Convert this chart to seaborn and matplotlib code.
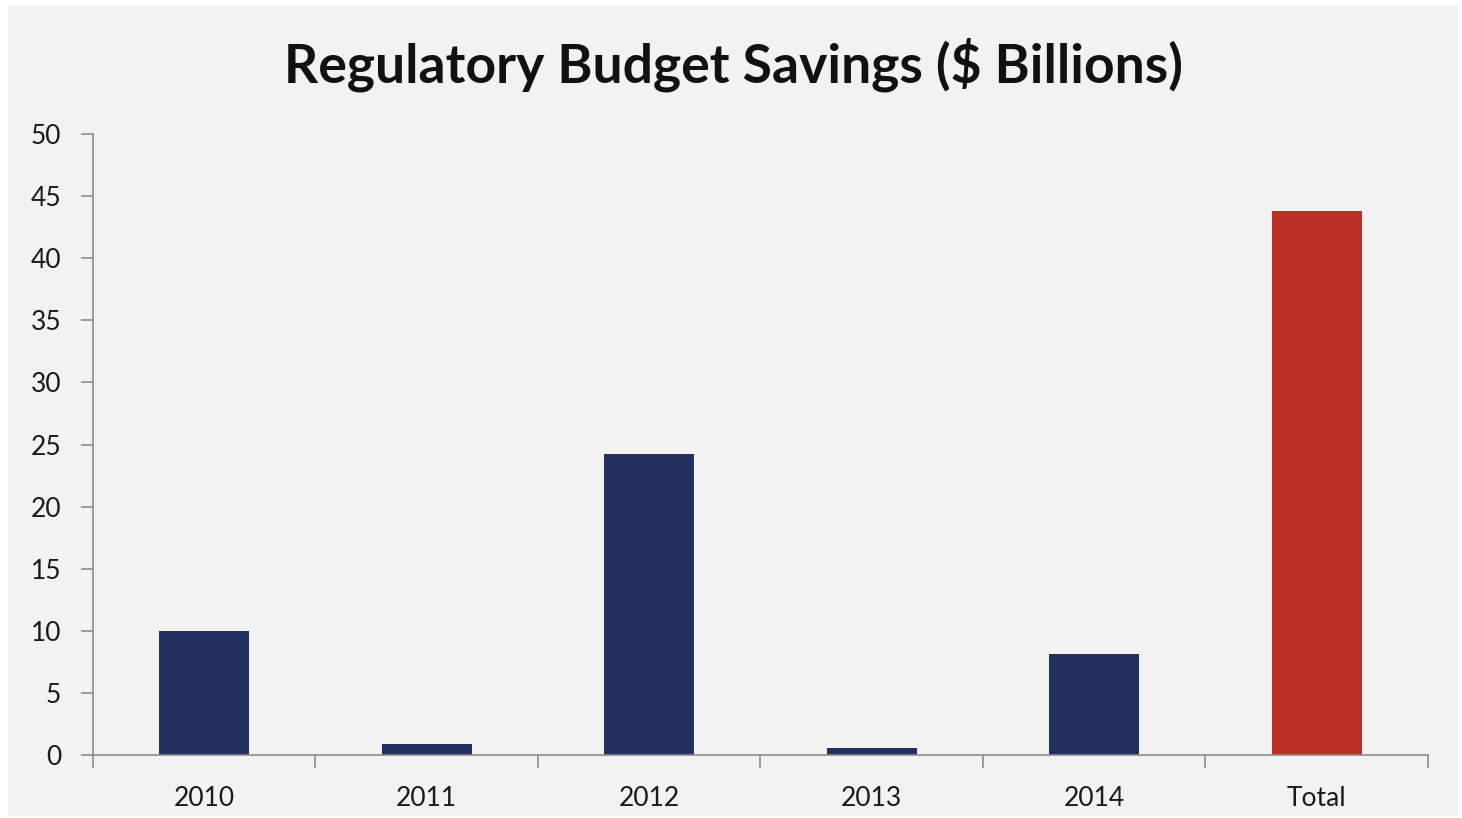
import matplotlib.pyplot as plt
import seaborn as sns
import pandas as pd
from matplotlib.patches import Rectangle

categories = ["2010", "2011", "2012", "2013", "2014", "Total"]
savings = [10.0, 0.9, 24.2, 0.6, 8.1, 43.8]
bar_colors = ["#22305f", "#22305f", "#22305f", "#22305f", "#22305f", "#bc2f26"]
y_ticks = [0, 5, 10, 15, 20, 25, 30, 35, 40, 45, 50]

df = pd.DataFrame({"year": categories, "savings": savings})

sns.set_style("white")
plt.rcParams["font.family"] = ["Lato", "DejaVu Sans"]

fig = plt.figure(figsize=(14.62, 8.18), dpi=100, facecolor="white")
# gray panel behind the chart
fig.patches.append(Rectangle((0.0055, 0.0024), 0.9918, 0.990, transform=fig.transFigure,
                             facecolor="#f2f2f2", edgecolor="none", zorder=-5))
ax = fig.add_axes([0.0636, 0.0770, 0.9131, 0.7592])
ax.set_facecolor("none")

sns.barplot(data=df, x="year", y="savings", hue="year", palette=bar_colors,
            legend=False, width=0.405, saturation=1, edgecolor="none", linewidth=0, ax=ax)

ax.set_xlim(-0.5, 5.5)
ax.set_ylim(0, 50)
ax.set_yticks(y_ticks)
ax.set_yticklabels([str(t) for t in y_ticks])

# ticks at the category boundaries, labels at the centres
ax.set_xticks([i - 0.5 for i in range(len(categories) + 1)])
ax.set_xticklabels([])
ax.set_xticks(range(len(categories)), minor=True)
ax.set_xticklabels(categories, minor=True)
ax.tick_params(axis="x", which="major", bottom=True, direction="out", length=9, width=1.2,
               color="#8c8c8c")
ax.tick_params(axis="x", which="minor", bottom=True, length=0, pad=22, labelsize=19,
               labelcolor="#1a1a1a")
ax.tick_params(axis="y", left=True, direction="out", length=9, width=1.2, color="#8c8c8c",
               labelsize=19, labelcolor="#1a1a1a", pad=14)

for side in ["top", "right"]:
    ax.spines[side].set_visible(False)
for side in ["left", "bottom"]:
    ax.spines[side].set_color("#8c8c8c")
    ax.spines[side].set_linewidth(1.2)

ax.set_xlabel("")
ax.set_ylabel("")
fig.text(0.502, 0.921, "Regulatory Budget Savings ($ Billions)", ha="center", va="center",
         fontsize=38.5, fontweight="bold", color="#111111")

fig.savefig("out.png", dpi=100, facecolor="white")
